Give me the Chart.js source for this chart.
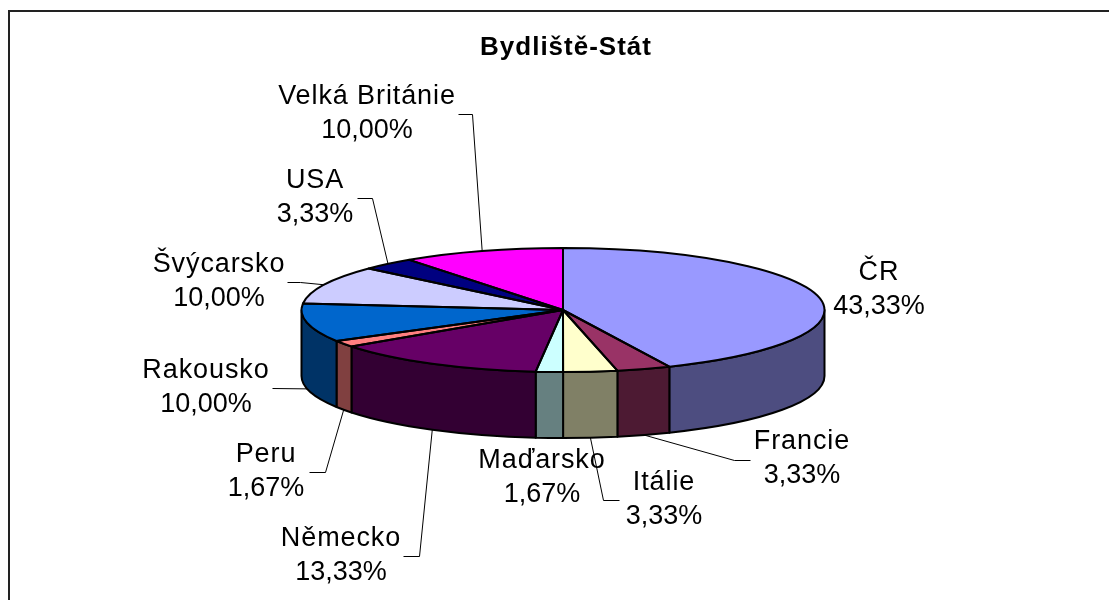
<!DOCTYPE html>
<html lang="cs">
<head>
<meta charset="utf-8">
<title>Bydliště-Stát</title>
<style>html,body{margin:0;padding:0;background:#fff;overflow:hidden}#wrap{width:1109px;height:600px}canvas{display:block}</style>
<script src="https://cdn.jsdelivr.net/npm/chart.js@4"></script>
</head>
<body>
<div id="wrap"><canvas id="c" width="1109" height="600"></canvas></div>
<script>
const chartTitle = 'Bydliště-Stát';
const categories = ['ČR','Francie','Itálie','Maďarsko','Německo','Peru','Rakousko','Švýcarsko','USA','Velká Británie'];
const percentages = [43.33,3.33,3.33,1.67,13.33,1.67,10,10,3.33,10];
const sliceColors = ['#9999FF','#993366','#FFFFCC','#CCFFFF','#660066','#FF8080','#0066CC','#CCCCFF','#000080','#FF00FF'];

// Label layout: centre x and first-line baseline of each data label
const labelX = [879,802,664,542,341,266,206,219,315,367];
const labelY = [280,449,490,468,546,462,378,272,188,104];
// Leader line: start point and elbow x (null = no leader). onWall: ends on the bottom rim
const leaderStart = [null,[750,460],[619,500],null,[403,556],[309,472],[272,388],[287,282],[357,198],[458,114]];
const leaderElbow = [null,734,603,null,419,325,null,300,372,472];
const leaderOnWall = [false,true,true,false,true,true,true,false,false,false];

const TILT_CY = 310, RY = 62, DEPTH = 66, LINE_GAP = 34;
const LABEL_FONT = '27px "Liberation Sans", Arial, sans-serif';

function shade(hex){
  const n = parseInt(hex.slice(1),16);
  const f = c => Math.round(c/2);
  return `rgb(${f(n>>16&255)},${f(n>>8&255)},${f(n&255)})`;
}

const pie3d = {
  id:'pie3d',
  beforeDraw(chart){
    const ctx = chart.ctx;
    ctx.save();
    ctx.fillStyle='#fff'; ctx.fillRect(0,0,chart.width,chart.height);
    ctx.strokeStyle='#222'; ctx.lineWidth=2;
    ctx.beginPath(); ctx.moveTo(9,600); ctx.lineTo(9,11); ctx.lineTo(1109,11); ctx.stroke();
    ctx.restore();
    ctx.save();
    ctx.translate(3,0);
    ctx.letterSpacing='1px';
  },
  beforeDatasetsDraw(chart){
    const ctx = chart.ctx, arcs = chart.getDatasetMeta(0).data;
    ctx.restore();
    ctx.save();
    ctx.lineWidth=2; ctx.strokeStyle='#000'; ctx.lineJoin='round';
    arcs.forEach((a,i)=>{
      const s = Math.max(a.startAngle,0), e = Math.min(a.endAngle,Math.PI);
      if(e<=s) return;
      ctx.beginPath();
      ctx.ellipse(a.x,TILT_CY,a.outerRadius,RY,0,s,e);
      ctx.ellipse(a.x,TILT_CY+DEPTH,a.outerRadius,RY,0,e,s,true);
      ctx.closePath();
      ctx.fillStyle=shade(sliceColors[i]);
      ctx.fill(); ctx.stroke();
    });
    ctx.restore();
    const cy = arcs[0].y, r = arcs[0].outerRadius;
    ctx.save();
    ctx.translate(0,TILT_CY);
    ctx.scale(1,RY/r);
    ctx.translate(0,-cy);
  },
  afterDatasetsDraw(chart){
    const ctx = chart.ctx, arcs = chart.getDatasetMeta(0).data;
    ctx.restore();
    ctx.save();
    ctx.lineWidth=2; ctx.strokeStyle='#000'; ctx.lineJoin='round';
    arcs.forEach(a=>{
      ctx.beginPath();
      ctx.moveTo(a.x,TILT_CY);
      ctx.ellipse(a.x,TILT_CY,a.outerRadius,RY,0,a.startAngle,a.endAngle);
      ctx.closePath();
      ctx.stroke();
    });
    // leaders
    ctx.lineWidth=1;
    arcs.forEach((a,i)=>{
      if(!leaderStart[i]) return;
      const m=(a.startAngle+a.endAngle)/2;
      const ex=a.x+a.outerRadius*Math.cos(m);
      const ey=TILT_CY+RY*Math.sin(m)+(leaderOnWall[i]?DEPTH:0);
      ctx.beginPath();
      ctx.moveTo(leaderStart[i][0]+.5,leaderStart[i][1]+.5);
      if(leaderElbow[i]!==null) ctx.lineTo(leaderElbow[i]+.5,leaderStart[i][1]+.5);
      ctx.lineTo(ex,ey);
      ctx.stroke();
    });
    // labels
    ctx.fillStyle='#000'; ctx.font=LABEL_FONT; ctx.textAlign='center'; ctx.textBaseline='alphabetic';
    categories.forEach((c,i)=>{
      ctx.letterSpacing='0.9px';
      ctx.fillText(c,labelX[i],labelY[i]);
      ctx.letterSpacing='0px';
      ctx.fillText(percentages[i].toFixed(2).replace('.',',')+'%',labelX[i],labelY[i]+LINE_GAP);
    });
    ctx.restore();
  }
};

new Chart(document.getElementById('c'),{
  type:'pie',
  data:{labels:categories,datasets:[{data:percentages,backgroundColor:sliceColors,borderWidth:0,clip:false}]},
  options:{
    responsive:false,animation:false,events:[],
    layout:{padding:{left:301.5,right:284.5,top:0,bottom:0}},
    plugins:{
      legend:{display:false},tooltip:{enabled:false},
      title:{display:true,text:chartTitle,fullSize:false,color:'#000',
        font:{family:'"Liberation Sans", Arial, sans-serif',size:26,weight:'bold'},
        padding:{top:32,bottom:0}}
    }
  },
  plugins:[pie3d]
});
</script>
</body>
</html>
